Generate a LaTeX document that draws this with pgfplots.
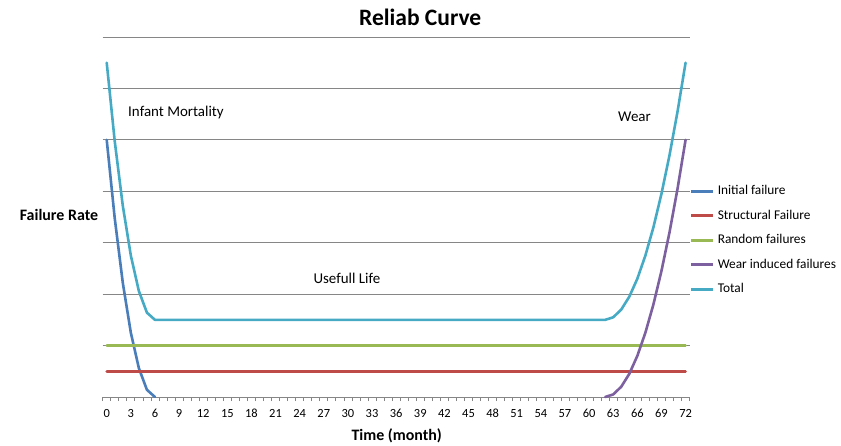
\documentclass[border=0pt]{standalone}
\usepackage{fontspec}
\setmainfont{Carlito}
\usepackage{pgfplots}
\pgfplotsset{compat=1.18}
\definecolor{cInit}{HTML}{4A7EBB}
\definecolor{cStruct}{HTML}{BE4B48}
\definecolor{cRand}{HTML}{98B954}
\definecolor{cWear}{HTML}{7D60A0}
\definecolor{cTot}{HTML}{46AAC5}
\definecolor{cGrid}{HTML}{868686}
\begin{document}
\begin{tikzpicture}
\useasboundingbox (-102.7bp,-49bp) rectangle (738.3bp,397bp);
\begin{axis}[
  at={(0,0)}, anchor=south west,
  width=586.9bp, height=360bp, scale only axis,
  xmin=-0.5, xmax=72.5, ymin=0, ymax=7,
  axis line style={draw=none},
  xtick={0,3,...,72}, minor xtick={-0.5,0.5,...,72.5},
  xtick pos=bottom, ytick pos=left,
  major tick length=0pt, minor tick length=4bp, tick align=outside,
  minor tick style={cGrid, line width=0.75bp},
  ytick={1,...,7}, yticklabels={},
  ymajorgrids, grid style={cGrid, line width=0.75bp},
  xticklabel style={font=\fontsize{12.5}{14}\selectfont, text height=8.5bp, text depth=0bp, yshift=-8bp},
  /pgf/number format/assume math mode=true,
  clip=false,
  legend style={at={(1,0.436)}, anchor=west, draw=none, fill=none,
    font=\fontsize{13.4}{15}\selectfont, inner xsep=0pt, row sep=13.5bp,
    nodes={text height=9bp, text depth=2bp, inner ysep=0pt, inner xsep=3bp}},
  legend cell align=left,
  legend image code/.code={\draw[#1, line width=3bp, line cap=butt] (0bp,0bp) -- (22bp,0bp);},
  legend image post style={line width=3bp},
  every axis plot/.append style={line width=2.6bp, line join=round, line cap=round},
]
\draw[cGrid, line width=0.75bp] (rel axis cs:0,0) -- (rel axis cs:1,0);
\addplot[cInit] coordinates {(0,5) (1,3.47) (2,2.22) (3,1.25) (4,0.56) (5,0.14) (6,0)};
\addlegendentry{Initial failure}
\addplot[cStruct] coordinates {(0,0.5) (72,0.5)};
\addlegendentry{Structural Failure}
\addplot[cRand] coordinates {(0,1) (72,1)};
\addlegendentry{Random failures}
\addplot[cWear] coordinates {(62,0) (63,0.05) (64,0.2) (65,0.45) (66,0.8) (67,1.25) (68,1.8) (69,2.45) (70,3.2) (71,4.05) (72,5)};
\addlegendentry{Wear induced failures}
\addplot[cTot] coordinates {(0,6.5) (1,4.97) (2,3.72) (3,2.75) (4,2.06) (5,1.64) (6,1.5) (62,1.5) (63,1.55) (64,1.7) (65,1.95) (66,2.3) (67,2.75) (68,3.3) (69,3.95) (70,4.7) (71,5.55) (72,6.5)};
\addlegendentry{Total}
\node[font=\bfseries\fontsize{23.6}{26}\selectfont] at (rel axis cs:0.541,1.056) {Reliab Curve};
\node[font=\bfseries\fontsize{16}{18}\selectfont] at (rel axis cs:-0.0745,0.506) {Failure Rate};
\node[font=\bfseries\fontsize{16}{18}\selectfont, yshift=-39bp] at (rel axis cs:0.501,0) {Time (month)};
\node[font=\fontsize{15}{17}\selectfont, anchor=west, inner xsep=0pt] at (axis cs:2.65,5.53) {Infant Mortality};
\node[font=\fontsize{15}{17}\selectfont, anchor=west, inner xsep=0pt] at (axis cs:63.6,5.45) {Wear};
\node[font=\fontsize{15}{17}\selectfont, anchor=west, inner xsep=0pt] at (axis cs:25.7,2.30) {Usefull Life};
\end{axis}
\end{tikzpicture}
\end{document}
